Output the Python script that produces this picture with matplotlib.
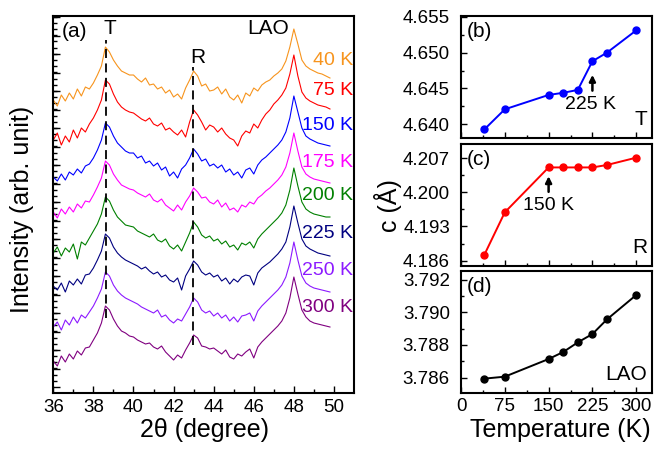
# -*- coding: utf-8 -*-
# XRD patterns (a) + lattice parameter c vs T (b, c, d)
import numpy as np
import matplotlib.pyplot as plt

plt.rcParams['font.family'] = ['Liberation Sans', 'DejaVu Sans']

# --- left panel data: 2theta grid and traces (height above own baseline) ---
two_theta = np.round(np.arange(36.0, 49.81, 0.2), 1)
temp_labels = ['40 K', '75 K', '150 K', '175 K', '200 K', '225 K', '250 K', '300 K']
trace_colors = ['#F7941D', '#FF0000', '#0000FF', '#FF00FF', '#008000', '#000080', '#8C1AFF', '#800080']
offsets = [291, 253, 215, 179, 140, 105, 66, 31]

i_40 = [2, -4, 7, 1, 9, 3, 13, 6, 15, 13,
        19, 27, 36, 55, 50, 42, 36, 31, 29, 27,
        27, 23, 20, 24, 17, 18, 13, 15, 9, 12,
        5, 8, 3, 14, 22, 31, 26, 16, 18, 11,
        12, 15, 8, 13, 5, 2, 7, -1, 9, 6,
        14, 11, 17, 20, 22, 26, 29, 33, 41, 55,
        73, 58, 42, 36, 33, 31, 29, 28, 26, 24]
i_75 = [0, 7, -5, 4, -2, 10, 2, 12, 8, 16,
        22, 30, 40, 60, 56, 46, 38, 33, 30, 28,
        27, 24, 21, 19, 22, 16, 14, 17, 10, 12,
        8, 5, 10, 3, 18, 30, 25, 18, 10, 15,
        13, 8, 12, 6, 2, 0, -6, 4, 9, 7,
        16, 12, 20, 26, 30, 36, 40, 45, 52, 66,
        85, 64, 48, 42, 39, 37, 35, 34, 33, 31]
i_150 = [1, -3, 4, -2, 6, 3, 9, 5, 12, 14,
         20, 28, 38, 55, 51, 42, 35, 31, 27, 25,
         25, 20, 22, 15, 17, 12, 15, 8, 11, 2,
         6, 0, 9, 13, 20, 29, 24, 17, 19, 12,
         14, 10, 13, 6, 9, 3, 6, 0, 8, 10,
         4, 13, 18, 21, 25, 29, 33, 38, 46, 60,
         82, 66, 50, 42, 39, 37, 35, 34, 33, 32]
i_175 = [2, -4, 5, 0, 7, 2, 10, 6, 13, 12,
         19, 27, 36, 53, 49, 40, 34, 29, 27, 25,
         24, 21, 19, 17, 20, 14, 12, 15, 9, 6,
         3, 9, 4, 12, 18, 26, 22, 16, 17, 12,
         10, 14, 7, 11, 4, 6, 2, 9, 7, 12,
         10, 16, 19, 23, 26, 30, 34, 39, 47, 61,
         81, 63, 47, 40, 37, 35, 34, 33, 32, 31]
i_200 = [0, 6, -3, 5, 1, 9, -6, 11, 8, 15,
         22, 29, 39, 56, 52, 43, 36, 32, 28, 27,
         26, 22, 20, 18, 16, 19, 13, 11, 14, 7,
         4, 8, 2, 11, 20, 31, 26, 18, 15, 17,
         12, 14, 9, 12, 6, 8, 3, 10, 8, 11,
         5, 14, 19, 23, 27, 31, 35, 40, 48, 63,
         85, 67, 51, 44, 41, 39, 38, 37, 36, 36]
i_225 = [2, -2, 5, -4, 7, 3, 9, 4, 13, 14,
         20, 28, 37, 54, 50, 41, 35, 31, 28, 26,
         24, 22, 19, 21, 17, 14, 16, 11, 13, 8,
         6, 10, -2, 12, 19, 27, 23, 16, 13, 15,
         11, 13, 7, 10, 4, 9, 6, 11, 13, 12,
         3, 15, 20, 23, 26, 30, 34, 39, 46, 61,
         82, 65, 49, 42, 39, 37, 35, 34, 33, 32]
i_250 = [0, 5, -3, 7, 2, 10, 4, 12, 9, 15,
         21, 29, 38, 55, 51, 42, 36, 32, 29, 27,
         25, 23, 20, 18, 16, 14, 17, 10, 12, 7,
         4, 8, 6, 13, 20, 29, 25, 17, 14, 16,
         11, 14, 9, 12, 6, 10, 5, 11, 12, 14,
         6, 16, 21, 25, 29, 33, 37, 42, 50, 64,
         85, 67, 51, 44, 41, 39, 38, 37, 36, 35]
i_300 = [1, -4, 6, 0, 8, 3, 11, 7, 14, 15,
         22, 29, 39, 56, 52, 43, 36, 31, 29, 26,
         25, 22, 20, 18, 19, 15, 13, 16, 10, 6,
         2, 7, 4, 12, 19, 27, 24, 16, 15, 13,
         14, 11, 8, 12, 5, 3, 8, 6, 10, 13,
         4, 15, 20, 24, 28, 32, 36, 41, 49, 64,
         85, 68, 52, 45, 41, 39, 38, 37, 36, 35]
traces = [i_40, i_75, i_150, i_175, i_200, i_225, i_250, i_300]

# --- right panels data ---
temperature = [40, 75, 150, 175, 200, 225, 250, 300]
c_T = [4.6393, 4.6421, 4.6441, 4.6444, 4.6448, 4.6488, 4.6500, 4.6531]
c_R = [4.1872, 4.1959, 4.2051, 4.2051, 4.2051, 4.2051, 4.2056, 4.2071]
c_LAO = [3.78594, 3.78606, 3.78714, 3.78757, 3.78816, 3.78867, 3.78957, 3.79106]

fig = plt.figure(figsize=(6.54, 4.51), dpi=100)

# (a) XRD
ax = fig.add_axes([0.0815, 0.1286, 0.4598, 0.8359])
for y, off, col in zip(traces, offsets, trace_colors):
    ax.plot(two_theta, np.array(y) + off, color=col, lw=0.8)
label_y = [333, 303, 268, 231, 198, 160, 123, 86]
for lab, ly, col in zip(temp_labels, label_y, trace_colors):
    ax.text(50.95, ly, lab, color=col, fontsize=14, ha='right', va='center')
ax.vlines(38.65, 75, 353, colors='k', linestyles=(0, (5, 3)), lw=1.3)
ax.vlines(42.95, 48, 326, colors='k', linestyles=(0, (5, 3)), lw=1.3)
ax.text(36.4, 362, '(a)', fontsize=15, ha='left', va='center')
ax.text(38.8, 365, 'T', fontsize=15, ha='center', va='center')
ax.text(43.2, 336, 'R', fontsize=15, ha='center', va='center')
ax.text(46.74, 365, 'LAO', fontsize=15, ha='center', va='center')
ax.set_xlim(36, 51)
ax.set_ylim(0, 377)
ax.set_xticks(np.arange(36, 51, 2))
ax.set_xticks(np.arange(37, 51, 2), minor=True)
ax.set_yticks(np.arange(6, 377, 18.5))
ax.set_yticks(np.arange(6, 377, 6.17), minor=True)
ax.set_yticklabels([])
ax.tick_params(direction='in', which='major', length=5, width=1, labelsize=13.5, pad=4)
ax.tick_params(direction='in', which='minor', length=3, width=1)
for s in ax.spines.values():
    s.set_linewidth(1.5)

# (b), (c), (d)
right = [
    (0.694, c_T, '#0000FF', (4.6381, 4.6551), [4.640, 4.645, 4.650, 4.655], 0.0025, '(b)', 'T'),
    (0.4102, c_R, '#FF0000', (4.1849, 4.2099), [4.186, 4.193, 4.200, 4.207], 0.0035, '(c)', 'R'),
    (0.1286, c_LAO, '#000000', (3.78506, 3.79253), [3.786, 3.788, 3.790, 3.792], 0.001, '(d)', 'LAO'),
]
axes_r = []
for bottom, cval, col, ylim, yt, ystep, tag, phase in right:
    a = fig.add_axes([0.7049, bottom, 0.292, 0.2705])
    a.plot(temperature, cval, '-o', color=col, lw=1.4, ms=5)
    a.set_xlim(0, 327)
    a.set_xticks([0, 75, 150, 225, 300])
    a.set_xticks([37.5, 112.5, 187.5, 262.5], minor=True)
    a.set_yticks(yt)
    a.set_yticks(np.arange(yt[0] - ystep, yt[-1] + ystep * 1.01, ystep), minor=True)
    a.set_ylim(*ylim)
    a.yaxis.set_major_formatter(plt.FormatStrFormatter('%.3f'))
    a.tick_params(direction='in', which='major', length=4, width=1, labelsize=13.5)
    a.tick_params(direction='in', which='minor', length=2.5, width=1)
    a.tick_params(axis='y', which='major', pad=8)
    for s in a.spines.values():
        s.set_linewidth(1.5)
    a.text(0.03, 0.87, tag, transform=a.transAxes, fontsize=15, ha='left', va='center')
    a.text(0.975, 0.15, phase, transform=a.transAxes, fontsize=15, ha='right', va='center')
    if tag != '(d)':
        a.set_xticklabels([])
    axes_r.append(a)

# arrows marking transitions
arrow_kw = dict(arrowstyle='-|>', color='k', lw=1.8, mutation_scale=9, shrinkA=0, shrinkB=0)
axes_r[0].annotate('', xy=(225, 4.6469), xytext=(225, 4.6447), arrowprops=arrow_kw)
axes_r[0].text(222, 4.6427, '225 K', fontsize=14, ha='center', va='center')
axes_r[1].annotate('', xy=(150, 4.2033), xytext=(150, 4.2001), arrowprops=arrow_kw)
axes_r[1].text(149, 4.1974, '150 K', fontsize=14, ha='center', va='center')

fig.text(0.033, 0.535, 'Intensity (arb. unit)', rotation=90, fontsize=18, ha='center', va='center')
fig.text(0.594, 0.545, 'c (Å)', rotation=90, fontsize=18, ha='center', va='center')
fig.text(0.312, 0.047, '2θ (degree)', fontsize=18, ha='center', va='center')
fig.text(0.856, 0.047, 'Temperature (K)', fontsize=18, ha='center', va='center')

fig.savefig('out.png', dpi=100)
